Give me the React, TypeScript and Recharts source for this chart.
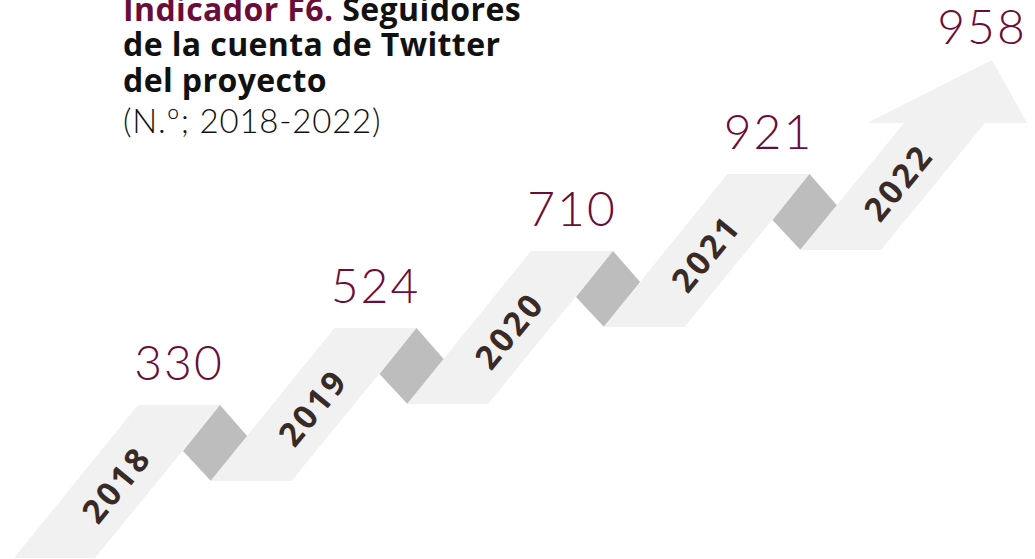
import { ComposedChart, Scatter, XAxis, YAxis } from "recharts"

// Seguidores de la cuenta de Twitter del proyecto (N.º; 2018-2022)
const years = ["2018", "2019", "2020", "2021", "2022"]
const followers = [330, 524, 710, 921, 958]
// each year is one step up the ribbon
const steps = [0, 1, 2, 3, 4]

const chartData = years.map((year, i) => ({
  x: steps[i],
  y: steps[i],
  year,
  value: followers[i],
  last: i === years.length - 1,
}))

const RIBBON = "#f1f1f1"
const FOLD = "#bdbdbd"
const VALUE_COLOR = "#6b0d3a"
const YEAR_COLOR = "#3a2a26"
const ANGLE = -50.8

const pts = (list: number[][]) => list.map(p => p.join(",")).join(" ")

// (cx, cy) is the upper right corner of the ribbon segment
function RibbonStep(props: any) {
  const { cx, cy, payload } = props
  const at = (dx: number, dy: number) => [cx + dx, cy + dy]

  const band = payload.last
    ? [at(-206, 153), at(-125, 153), at(-21, 26), at(21, 26), at(-14, -37), at(-139, 26), at(-102, 26)]
    : [at(-82, 0), at(0, 0), at(-125, 153), at(-206, 153)]
  const fold = [at(0, 0), at(28, 32), at(-9, 76), at(-37, 46)]

  const valuePos = payload.last ? at(-24, -53) : at(-41, -25)
  const yearPos = payload.last ? at(-108, 85) : at(-104, 79)

  return (
    <g>
      <polygon points={pts(band)} fill={RIBBON} />
      {!payload.last && <polygon points={pts(fold)} fill={FOLD} />}
      <text
        x={yearPos[0]}
        y={yearPos[1]}
        textAnchor="middle"
        dominantBaseline="central"
        transform={`rotate(${ANGLE} ${yearPos[0]} ${yearPos[1]})`}
        fontFamily="'Open Sans', sans-serif"
        fontWeight={700}
        fontSize={33}
        letterSpacing={3}
        fill={YEAR_COLOR}
      >
        {payload.year}
      </text>
      <text
        x={valuePos[0]}
        y={valuePos[1]}
        textAnchor="middle"
        fontFamily="Lato, sans-serif"
        fontWeight={300}
        fontSize={48}
        letterSpacing={2}
        fill={VALUE_COLOR}
      >
        {payload.value}
      </text>
    </g>
  )
}

export default function App() {
  return (
    <div style={{ position: "absolute", left: 0, top: 0, width: 1035, height: 559, background: "#fff", overflow: "hidden" }}>
      <ComposedChart
        width={1035}
        height={559}
        data={chartData}
        margin={{ top: 97, right: 29, bottom: 154, left: 220 }}
        style={{ position: "absolute", left: 0, top: 0 }}
      >
        <XAxis dataKey="x" type="number" domain={[0, 4]} hide />
        <YAxis dataKey="y" type="number" domain={[0, 4]} hide />
        <Scatter data={chartData} shape={<RibbonStep />} isAnimationActive={false} />
      </ComposedChart>
      <div
        style={{
          position: "absolute",
          left: 123,
          top: -9.5,
          fontFamily: "'Open Sans', sans-serif",
          fontSize: 32,
          letterSpacing: 0.4,
          lineHeight: "35.5px",
          color: "#111",
          whiteSpace: "nowrap",
        }}
      >
        <div style={{ fontWeight: 700 }}>
          <span style={{ color: VALUE_COLOR }}>Indicador F6.</span> Seguidores
        </div>
        <div style={{ fontWeight: 700 }}>de la cuenta de Twitter</div>
        <div style={{ fontWeight: 700 }}>del proyecto</div>
        <div style={{ fontWeight: 300, fontFamily: "Lato, sans-serif", fontSize: 33, letterSpacing: 0.8, marginTop: 5.5 }}>
          (N.º; 2018-2022)
        </div>
      </div>
    </div>
  )
}
